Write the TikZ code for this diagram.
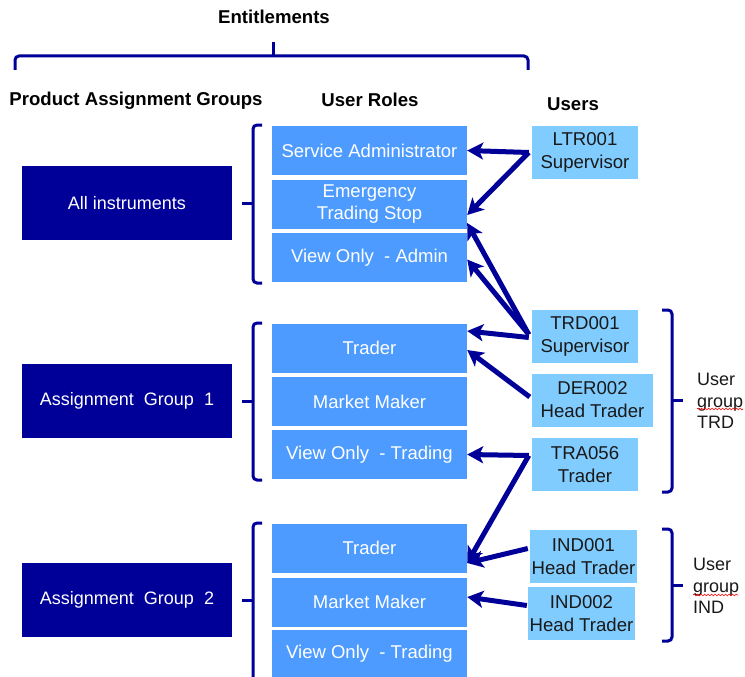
\documentclass[tikz,border=0pt]{standalone}
\usepackage{fontspec}
\setmainfont{Liberation Sans}
\usetikzlibrary{arrows.meta,decorations.pathmorphing}
\definecolor{navy}{RGB}{0,0,153}
\definecolor{rolebl}{RGB}{77,155,255}
\definecolor{userbl}{RGB}{128,204,255}
\tikzset{
  heading/.style={font=\fontsize{18.6}{21}\selectfont\bfseries, text=black},
  pag/.style={fill=navy, text=white, minimum width=210pt, minimum height=74pt, inner sep=0pt, font=\fontsize{18}{21}\selectfont},
  role/.style={fill=rolebl, text=white, minimum width=195pt, minimum height=49pt, inner sep=0pt, align=center, font=\fontsize{18.5}{22}\selectfont},
  usr/.style={fill=userbl, text=black!90, minimum height=53pt, inner sep=0pt, align=center, font=\fontsize{18.6}{23}\selectfont},
  brace/.style={draw=navy, line width=3pt, rounded corners=4pt},
  conn/.style={draw=navy, line width=5pt, -{Stealth[length=16pt,width=17pt,inset=4pt]}},
  grp/.style={align=left, anchor=west, inner sep=0pt, font=\fontsize{18}{21.5}\selectfont, text=black!90},
  spell/.style={draw=red, line width=0.6pt, decorate, decoration={snake, amplitude=0.9pt, segment length=3.5pt}}
}
\begin{document}
\begin{tikzpicture}[x=1pt,y=-1pt]
\useasboundingbox (0,0) rectangle (745,677);
% headings
\node[heading] (ent) at (274,17) {Entitlements};
\node[heading] (hpag) at (136,101) {Product Assignment Groups};
\node[heading] (hrol) at (370,100) {User Roles};
\node[heading] (husr) at (573,104) {Users};
% top brace
\draw[brace] (15,70) -- (15,56) -- (528,56) -- (528,70);
\draw[brace, rounded corners=0pt] (273,56) -- (273,42);
% product assignment groups
\node[pag] (all) at (127,203) {All instruments};
\node[pag] (ag1) at (127,401) {Assignment~ Group~ 1};
\node[pag] (ag2) at (127,600) {Assignment~ Group~ 2};
% left braces
\draw[brace] (262,125) -- (253,125) -- (253,283) -- (262,283);
\draw[brace] (253,203) -- (242,203);
\draw[brace] (262,323) -- (253,323) -- (253,480) -- (262,480);
\draw[brace] (253,401) -- (242,401);
\draw[brace] (262,523) -- (253,523) -- (253,690) -- (262,690);
\draw[brace] (253,600) -- (242,600);
% roles
\node[role] (sa) at (369.5,150.5) {Service Administrator};
\node[role] (ets) at (369.5,204) {Emergency\\Trading Stop};
\node[role] (voa) at (369.5,257.5) {View Only~ - Admin};
\node[role] (tr1) at (369.5,348) {Trader};
\node[role] (mm1) at (369.5,401.5) {Market Maker};
\node[role] (vot1) at (369.5,454.5) {View Only~ - Trading};
\node[role] (tr2) at (369.5,548) {Trader};
\node[role] (mm2) at (369.5,602) {Market Maker};
\node[role] (vot2) at (369.5,654) {View Only~ - Trading};
% users
\node[usr, minimum width=106pt] (ltr) at (585,152.5) {LTR001\\Supervisor};
\node[usr, minimum width=106pt] (trd) at (585,336.5) {TRD001\\Supervisor};
\node[usr, minimum width=121pt] (der) at (592.5,400) {DER002\\Head Trader};
\node[usr, minimum width=106pt] (tra) at (585,464.5) {TRA056\\Trader};
\node[usr, minimum width=107pt] (ind1) at (583.5,556.5) {IND001\\Head Trader};
\node[usr, minimum width=107pt] (ind2) at (581.5,613.5) {IND002\\Head Trader};
% right braces
\draw[brace] (662,310) -- (672,310) -- (672,492) -- (662,492);
\draw[brace] (672,400) -- (683,400);
\draw[brace] (662,529) -- (672,529) -- (672,641) -- (662,641);
\draw[brace] (672,585) -- (683,585);
\node[grp] (gtrd) at (697,401) {User\\group\\TRD};
\node[grp] (gind) at (693,586) {User\\group\\IND};
\draw[spell] (697,409) -- (743,409);
\draw[spell] (693,595) -- (738,595);
% connectors
\coordinate (jl) at ([xshift=-3pt]ltr.west);
\coordinate (jt) at ([xshift=-3pt,yshift=2pt]trd.west);
\coordinate (jd) at ([xshift=-2pt,yshift=3pt]der.west);
\coordinate (ja) at ([xshift=-3pt,yshift=9pt]tra.west);
\coordinate (ji1) at ([xshift=-2pt,yshift=8pt]ind1.west);
\coordinate (ji2) at ([xshift=-1pt,yshift=8pt]ind2.west);
\draw[conn] (jl) -- (sa.east);
\draw[conn] (jl) -- ([yshift=-11pt]ets.east);
\draw[conn] (jt) -- ([yshift=-19pt]ets.east);
\draw[conn] (jt) -- ([yshift=-2pt]voa.east);
\draw[conn] ([yshift=-3pt]jt) -- ([yshift=17pt]tr1.east);
\draw[conn] (jd) -- ([yshift=-2pt]tr1.east);
\draw[conn] (ja) -- (vot1.east);
\draw[conn] (ja) -- ([yshift=-15pt]tr2.east);
\draw[conn] (ji1) -- ([yshift=-15pt]tr2.east);
\draw[conn] (ji2) -- ([yshift=5pt]mm2.east);
\end{tikzpicture}
\end{document}
